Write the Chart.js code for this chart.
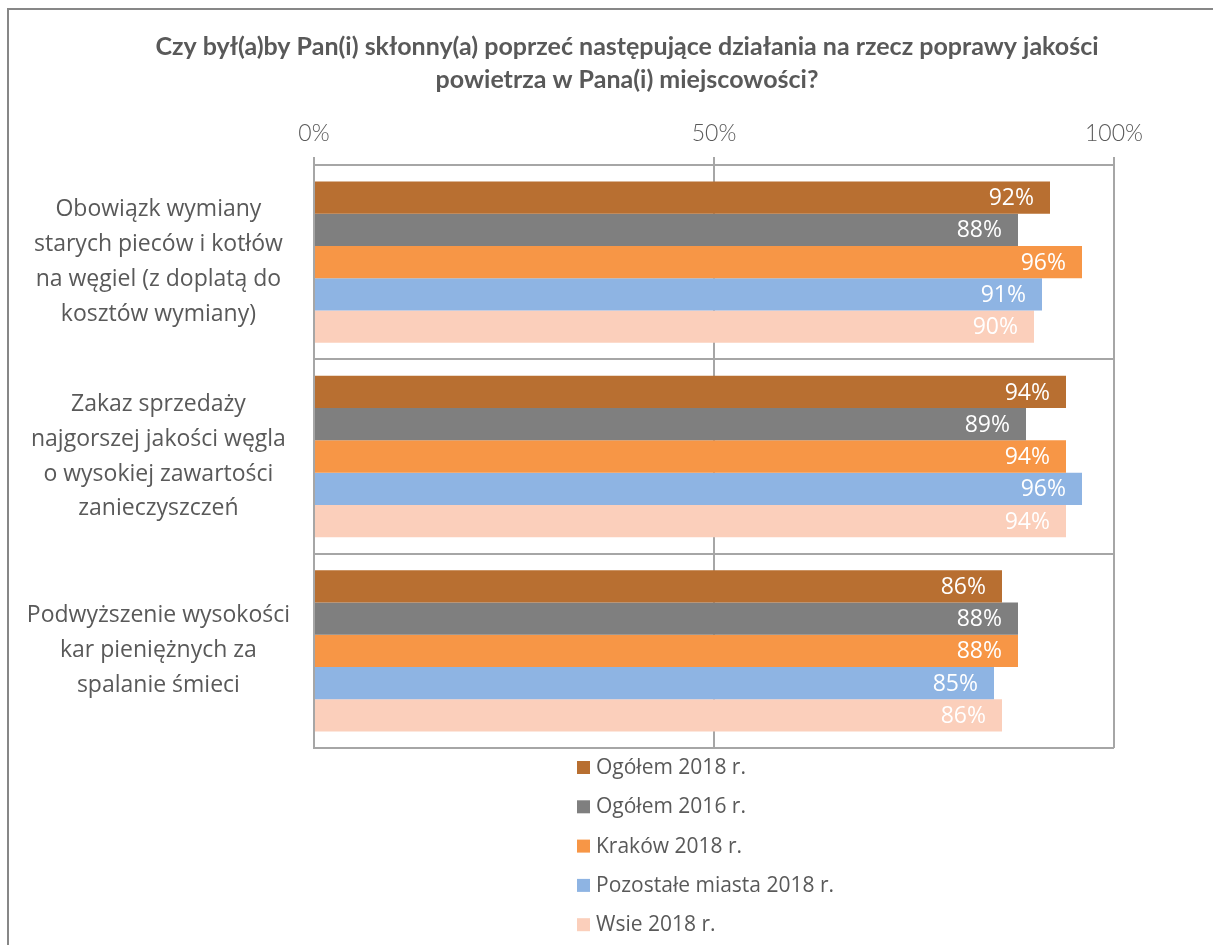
<!DOCTYPE html>
<html>
<head>
<meta charset="utf-8">
<script src="https://cdn.jsdelivr.net/npm/chart.js@4"></script>
<style>
  body { margin: 0; background: #fff; }
</style>
</head>
<body>
<canvas id="chart" width="1213" height="945"></canvas>
<script>
// dane
const title_lines = ['Czy był(a)by Pan(i) skłonny(a) poprzeć następujące działania na rzecz poprawy jakości',
                     'powietrza w Pana(i) miejscowości?'];
const categories = [
    ['Obowiązk wymiany', 'starych pieców i kotłów', 'na węgiel (z doplatą do', 'kosztów wymiany)'],
    ['Zakaz sprzedaży', 'najgorszej jakości węgla', 'o wysokiej zawartości', 'zanieczyszczeń'],
    ['Podwyższenie wysokości', 'kar pieniężnych za', 'spalanie śmieci']
];
const series_names = ['Ogółem 2018 r.', 'Ogółem 2016 r.', 'Kraków 2018 r.', 'Pozostałe miasta 2018 r.', 'Wsie 2018 r.'];
const ogolem_2018 = [92, 94, 86];
const ogolem_2016 = [88, 89, 88];
const krakow_2018 = [96, 94, 88];
const miasta_2018 = [91, 96, 85];
const wsie_2018 = [90, 94, 86];
const x_ticks = [0, 50, 100];

const colors = ['#B86F31', '#7F7F7F', '#F79646', '#8EB4E3', '#FBCFBB'];
const text_color = '#595959';
const grid_color = '#A6A6A6';
const font_family = '"Open Sans", sans-serif';

const series_values = [ogolem_2018, ogolem_2016, krakow_2018, miasta_2018, wsie_2018];

// etykiety wartosci na slupkach
const valueLabels = {
    id: 'valueLabels',
    afterDatasetsDraw(chart){
        const ctx = chart.ctx;
        ctx.save();
        ctx.font = '23px ' + font_family;
        ctx.fillStyle = '#ffffff';
        ctx.textAlign = 'right';
        ctx.textBaseline = 'middle';
        chart.data.datasets.forEach((ds, i) => {
            chart.getDatasetMeta(i).data.forEach((bar, j) => {
                ctx.fillText(ds.data[j] + '%', bar.x - 16, bar.y + 1);
            });
        });
        ctx.restore();
    }
};

// tytul, ramka i legenda pionowa pod wykresem
const decorations = {
    id: 'decorations',
    beforeDraw(chart){
        const ctx = chart.ctx;
        ctx.save();
        ctx.strokeStyle = '#878787';
        ctx.lineWidth = 2;
        ctx.beginPath();
        ctx.moveTo(8, 960);
        ctx.lineTo(8, 9);
        ctx.lineTo(1230, 9);
        ctx.stroke();
        ctx.restore();
    },
    afterDraw(chart){
        const ctx = chart.ctx;
        ctx.save();
        // tytul
        ctx.font = 'bold 25px Lato, sans-serif';
        ctx.fillStyle = text_color;
        ctx.textAlign = 'center';
        ctx.textBaseline = 'middle';
        title_lines.forEach((line, i) => {
            ctx.fillText(line, 627, 47 + i * 33);
        });
        // legenda
        const top = chart.chartArea.bottom + 20;
        ctx.font = '21px ' + font_family;
        ctx.textAlign = 'left';
        chart.data.datasets.forEach((ds, i) => {
            const y = top + i * 39.3;
            ctx.fillStyle = ds.backgroundColor;
            ctx.fillRect(577, y - 7, 13, 13);
            ctx.fillStyle = text_color;
            ctx.fillText(ds.label, 596, y);
        });
        ctx.restore();
    }
};

const data = {
    labels: categories,
    datasets: series_names.map((name, i) => ({
        label: name,
        data: series_values[i],
        backgroundColor: colors[i],
        borderWidth: 0,
        categoryPercentage: 0.83,
        barPercentage: 1.0
    }))
};

const config = {
    type: 'bar',
    data: data,
    options: {
        indexAxis: 'y',
        responsive: false,
        animation: false,
        layout: {
            padding: {left: 14, right: 99, top: 96, bottom: 197}
        },
        plugins: {
            legend: {display: false},
            tooltip: {enabled: false},
            title: {display: false}
        },
        scales: {
            x: {
                position: 'top',
                min: 0,
                max: 100,
                afterBuildTicks(scale){
                    scale.ticks = x_ticks.map(v => ({value: v}));
                },
                afterFit(scale){
                    scale.height = 69;
                },
                ticks: {
                    color: text_color,
                    font: {family: 'Lato, sans-serif', size: 23, weight: '300'},
                    padding: 10,
                    callback: v => v + '%'
                },
                grid: {
                    color: grid_color,
                    lineWidth: 2,
                    drawTicks: true,
                    tickLength: 8
                },
                border: {color: grid_color, width: 2}
            },
            y: {
                afterFit(scale){
                    scale.width = 300;
                },
                ticks: {
                    color: text_color,
                    font: {family: font_family, size: 23, lineHeight: 1.52},
                    crossAlign: 'center',
                    padding: 24
                },
                grid: {
                    color: grid_color,
                    lineWidth: 2,
                    drawTicks: false,
                    offset: true
                },
                border: {color: grid_color, width: 2}
            }
        }
    },
    plugins: [valueLabels, decorations]
};

window.onload = function() {
    new Chart(document.getElementById('chart'), config);
}
</script>
</body>
</html>
